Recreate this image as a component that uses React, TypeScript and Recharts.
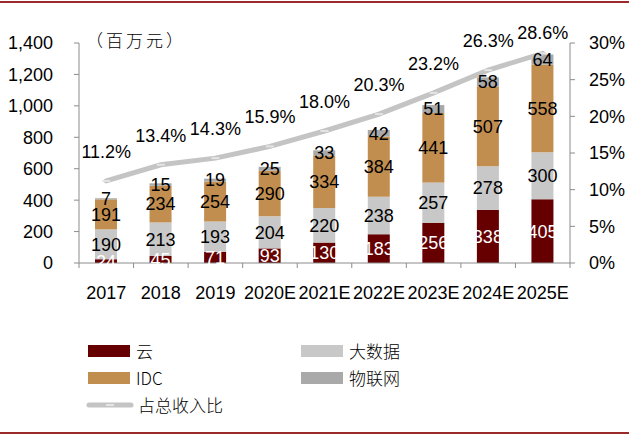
import React from 'react';
import { ComposedChart, Bar, Line, XAxis, YAxis, LabelList } from 'recharts';

const years = ['2017', '2018', '2019', '2020E', '2021E', '2022E', '2023E', '2024E', '2025E'];
const cloud = [24, 45, 71, 93, 130, 183, 256, 338, 405];
const bigData = [190, 213, 193, 204, 220, 238, 257, 278, 300];
const idc = [191, 234, 254, 290, 334, 384, 441, 507, 558];
const iot = [7, 15, 19, 25, 33, 42, 51, 58, 64];
const share = [11.2, 13.4, 14.3, 15.9, 18.0, 20.3, 23.2, 26.3, 28.6];

const leftTicks = [0, 200, 400, 600, 800, 1000, 1200, 1400];
const rightTicks = [0, 5, 10, 15, 20, 25, 30];

const data = years.map((year, i) => ({
  year,
  cloud: cloud[i],
  bigData: bigData[i],
  idc: idc[i],
  iot: iot[i],
  share: share[i],
}));

const FONT = '"Liberation Sans", Arial, sans-serif';
const CJK = '"Noto Sans CJK SC", sans-serif';
const AXIS = '#8c8c8c';
const C_CLOUD = '#660000';
const C_BIG = '#c8c8c8';
const C_IDC = '#c28e4f';
const C_IOT = '#a9a9a9';
const C_LINE = '#c4c4c4';

const W = 629;
const CHART_H = 320;
const PLOT_LEFT = 79;
const PLOT_RIGHT = 570;

const XTick = (props: any) => {
  const { x, y, payload, index, visibleTicksCount } = props;
  const half = payload?.offset ?? (PLOT_RIGHT - PLOT_LEFT) / years.length / 2;
  const last = index === (visibleTicksCount ?? years.length) - 1;
  return (
    <g>
      <line x1={x - half} x2={x - half} y1={y} y2={y + 5} stroke={AXIS} strokeWidth={1} />
      {last && <line x1={x + half} x2={x + half} y1={y} y2={y + 5} stroke={AXIS} strokeWidth={1} />}
      <text x={x} y={y + 30} textAnchor="middle" dominantBaseline="central" fill="#000" fontSize={18} fontFamily={FONT}>
        {payload.value}
      </text>
    </g>
  );
};

// marker + percentage label drawn from the point's own coordinates
const ShareDot = (p: any) => {
  const { cx, cy, payload } = p;
  if (cx == null || cy == null) return null;
  return (
    <g>
      <rect x={cx - 4} y={cy - 1} width={8} height={2} fill="#e4e4e4" />
      <text
        x={cx}
        y={Math.max(cy - 29, 33)}
        textAnchor="middle"
        dominantBaseline="central"
        fill="#000"
        fontSize={18}
        fontFamily={FONT}
      >
        {`${Number(payload.share).toFixed(1)}%`}
      </text>
    </g>
  );
};

const legendItems = [
  { name: '云', color: C_CLOUD, type: 'rect' },
  { name: '大数据', color: C_BIG, type: 'rect' },
  { name: 'IDC', color: C_IDC, type: 'rect' },
  { name: '物联网', color: C_IOT, type: 'rect' },
  { name: '占总收入比', color: C_LINE, type: 'line' },
];

const Legend = () => (
  <div
    style={{
      position: 'absolute',
      left: 86,
      top: 341,
      display: 'grid',
      gridTemplateColumns: '213px 200px',
      rowGap: 7,
      fontFamily: CJK,
      fontSize: 17,
      color: '#000',
    }}
  >
    {legendItems.map((it) => (
      <div key={it.name} style={{ display: 'flex', alignItems: 'center', height: 20 }}>
        {it.type === 'rect' ? (
          <span style={{ display: 'inline-block', width: 42, height: 12, background: it.color, marginLeft: 2, marginRight: 6 }} />
        ) : (
          <svg width={50} height={12} style={{ marginRight: 2 }}>
            <line x1={3} x2={45} y1={6} y2={6} stroke={it.color} strokeWidth={5} strokeLinecap="round" />
            <rect x={20} y={5} width={8} height={2} fill="#e4e4e4" />
          </svg>
        )}
        <span style={{ lineHeight: '20px', fontWeight: 300 }}>{it.name}</span>
      </div>
    ))}
  </div>
);

export default function App() {
  return (
    <div style={{ position: 'absolute', left: 0, top: 0, width: W, height: 436, background: '#fff' }}>
      <div style={{ position: 'absolute', left: 0, top: 1, width: W, height: 2, background: '#9b2a2a' }} />
      <div style={{ position: 'absolute', left: 0, top: 432, width: W, height: 2, background: '#9b2a2a' }} />
      <div
        style={{
          position: 'absolute',
          left: 86,
          top: 27,
          fontFamily: CJK,
          fontSize: 17,
          fontWeight: 300,
          letterSpacing: 3,
          color: '#000',
        }}
      >
        （百万元）
      </div>
      <div style={{ position: 'absolute', left: 0, top: 0 }}>
        <ComposedChart
          width={W}
          height={CHART_H}
          data={data}
          margin={{ top: 43, right: 0, bottom: 17, left: 0 }}
          barSize={22}
        >
          <XAxis
            dataKey="year"
            axisLine={{ stroke: AXIS }}
            tickLine={false}
            tickSize={0}
            tickMargin={0}
            height={40}
            interval={0}
            tick={<XTick />}
          />
          <YAxis
            yAxisId="left"
            domain={[0, 1400]}
            ticks={leftTicks}
            width={79}
            axisLine={{ stroke: AXIS }}
            tickLine={{ stroke: AXIS }}
            tickSize={5}
            tickMargin={21}
            tickFormatter={(v: number) => v.toLocaleString('en-US')}
            tick={{ fill: '#000', fontSize: 18, fontFamily: FONT }}
          />
          <YAxis
            yAxisId="right"
            orientation="right"
            domain={[0, 30]}
            ticks={rightTicks}
            width={59}
            axisLine={{ stroke: AXIS }}
            tickLine={{ stroke: AXIS }}
            tickSize={5}
            tickMargin={14}
            tickFormatter={(v: number) => `${v}%`}
            tick={{ fill: '#000', fontSize: 18, fontFamily: FONT, textAnchor: 'start' }}
          />
          <Bar yAxisId="left" dataKey="cloud" stackId="s" fill={C_CLOUD} isAnimationActive={false}>
            <LabelList dataKey="cloud" position="center" fill="#fff" fontSize={18} fontFamily={FONT} />
          </Bar>
          <Bar yAxisId="left" dataKey="bigData" stackId="s" fill={C_BIG} isAnimationActive={false}>
            <LabelList dataKey="bigData" position="center" fill="#000" fontSize={18} fontFamily={FONT} />
          </Bar>
          <Bar yAxisId="left" dataKey="idc" stackId="s" fill={C_IDC} isAnimationActive={false}>
            <LabelList dataKey="idc" position="center" fill="#000" fontSize={18} fontFamily={FONT} />
          </Bar>
          <Bar yAxisId="left" dataKey="iot" stackId="s" fill={C_IOT} isAnimationActive={false}>
            <LabelList dataKey="iot" position="center" fill="#000" fontSize={18} fontFamily={FONT} />
          </Bar>
          <Line
            yAxisId="right"
            dataKey="share"
            type="linear"
            stroke={C_LINE}
            strokeWidth={5}
            strokeLinecap="round"
            dot={<ShareDot />}
            activeDot={false}
            isAnimationActive={false}
          />
        </ComposedChart>
      </div>
      <Legend />
    </div>
  );
}
